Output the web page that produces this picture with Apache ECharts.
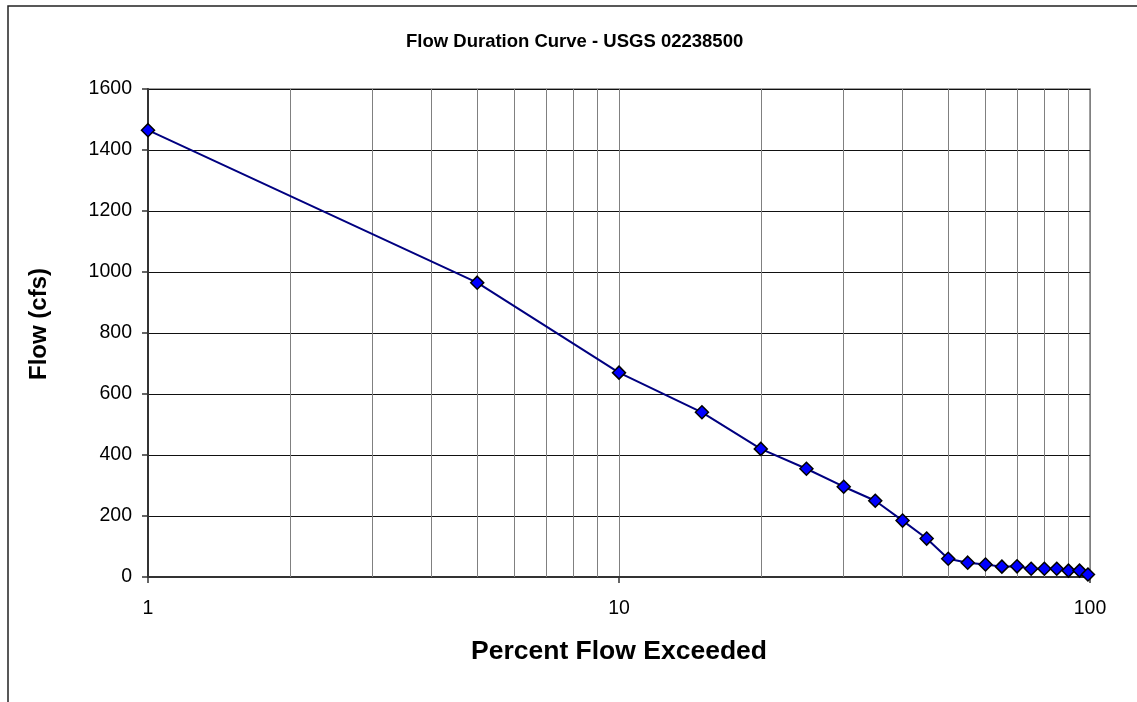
<!DOCTYPE html>
<html>
<head>
<meta charset="utf-8">
<script src="https://cdn.jsdelivr.net/npm/echarts@6/dist/echarts.min.js"></script>
<style>
html,body{margin:0;padding:0;background:#fff;}
#chart{width:1137px;height:702px;}
</style>
</head>
<body>
<div id="chart"></div>
<script>
var titleText = 'Flow Duration Curve - USGS 02238500';
var xName = 'Percent Flow Exceeded';
var yName = 'Flow (cfs)';
var percentExceeded = [1, 5, 10, 15, 20, 25, 30, 35, 40, 45, 50, 55, 60, 65, 70, 75, 80, 85, 90, 95, 99];
var flowCfs = [1465, 965, 670, 540, 420, 355, 296, 250, 185, 126, 60, 47, 41, 34, 35, 27, 27, 27, 21, 21, 8];
var minorGridX = [2, 3, 4, 5, 6, 7, 8, 9, 20, 30, 40, 50, 60, 70, 80, 90];

var points = percentExceeded.map(function (p, i) { return [p, flowCfs[i]]; });
var font = '"Liberation Sans", Arial, sans-serif';

var chart = echarts.init(document.getElementById('chart'), null, {renderer: 'canvas'});
chart.setOption({
  animation: false,
  backgroundColor: '#fff',
  title: {
    text: titleText,
    left: 401,
    top: 27,
    padding: 5,
    textStyle: {fontFamily: font, fontSize: 18.5, fontWeight: 'bold', color: '#000'}
  },
  graphic: [{
    type: 'rect',
    shape: {x: 8, y: 6, width: 1200, height: 800},
    style: {fill: 'none', stroke: '#222', lineWidth: 1.5},
    silent: true, z: 100
  }],
  grid: {
    left: 148, right: 47, top: 89, bottom: 125,
    show: true, borderColor: '#808080', borderWidth: 1.5,
    containLabel: false
  },
  xAxis: {
    type: 'log', logBase: 10, min: 1, max: 100,
    name: xName, nameLocation: 'middle', nameGap: 61,
    nameTextStyle: {fontFamily: font, fontSize: 26.5, fontWeight: 'bold', color: '#000'},
    axisLine: {show: true, onZero: false, lineStyle: {color: '#333', width: 2}},
    axisTick: {show: true, length: 6, lineStyle: {color: '#333', width: 1.5}},
    axisLabel: {fontFamily: font, fontSize: 19.5, color: '#000', margin: 22},
    splitLine: {show: true, lineStyle: {color: '#808080', width: 1}},
    minorTick: {show: false}, minorSplitLine: {show: false}
  },
  yAxis: {
    type: 'value', min: 0, max: 1600, interval: 200,
    name: yName, nameLocation: 'middle', nameGap: 97, nameRotate: 90,
    nameTextStyle: {fontFamily: font, fontSize: 24, fontWeight: 'bold', color: '#000', padding: [0, 0, 0, 18]},
    axisLine: {show: true, lineStyle: {color: '#333', width: 2}},
    axisTick: {show: true, length: 6, lineStyle: {color: '#333', width: 1.5}},
    axisLabel: {fontFamily: font, fontSize: 19.5, color: '#000', margin: 16,
      formatter: function (v) { return String(v); }},
    splitLine: {show: true, lineStyle: {color: '#111', width: 1}}
  },
  series: [{
    type: 'line',
    data: [],
    z: 1,
    silent: true,
    markLine: {
      silent: true,
      symbol: ['none', 'none'],
      label: {show: false},
      lineStyle: {color: '#808080', width: 1, type: 'solid'},
      emphasis: {disabled: true},
      data: minorGridX.map(function (v) { return {xAxis: v}; })
    }
  }, {
    type: 'line',
    data: points,
    z: 5,
    symbol: 'diamond',
    symbolSize: 13,
    showAllSymbol: true,
    lineStyle: {color: '#000080', width: 2},
    itemStyle: {color: '#0000FF', borderColor: '#000', borderWidth: 1.5}
  }]
});
</script>
</body>
</html>
